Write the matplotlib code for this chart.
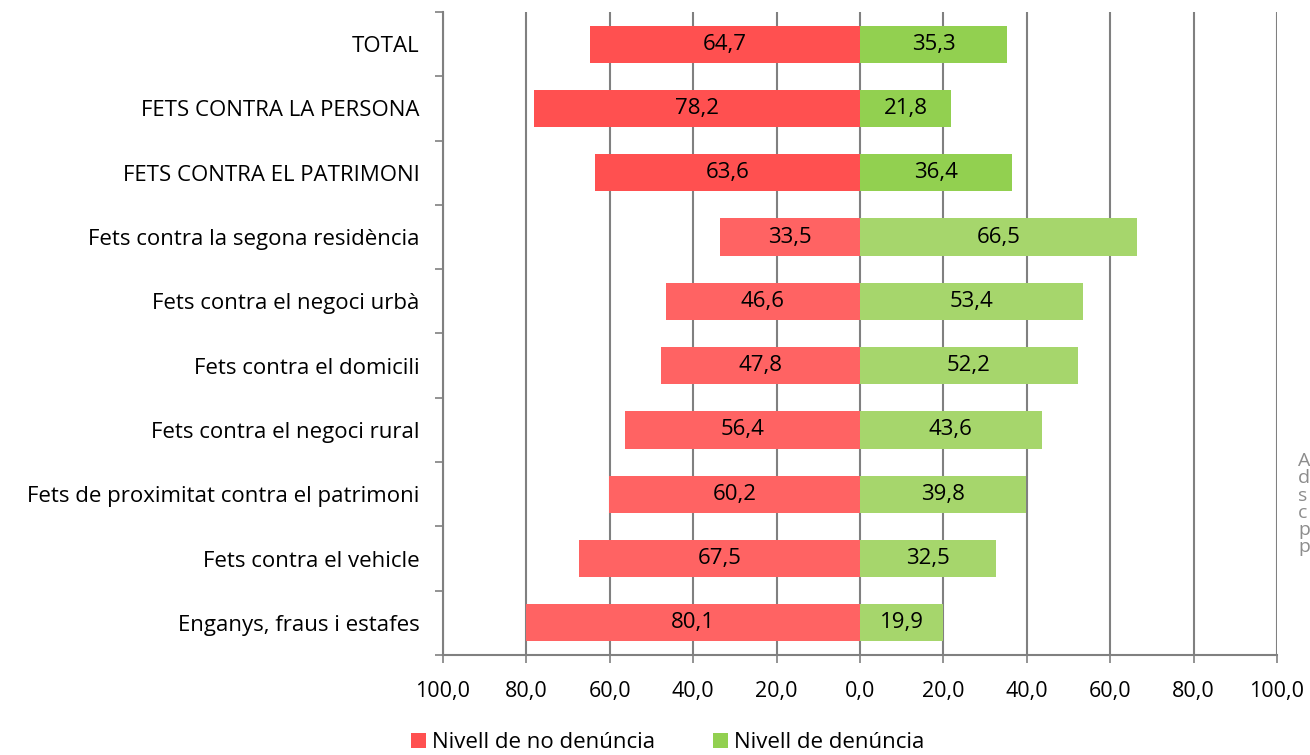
import matplotlib.pyplot as plt
import numpy as np
from matplotlib.ticker import FixedLocator

plt.rcParams['font.family'] = ['Open Sans', 'DejaVu Sans']

categories = [
    "TOTAL",
    "FETS CONTRA LA PERSONA",
    "FETS CONTRA EL PATRIMONI",
    "Fets contra la segona residència",
    "Fets contra el negoci urbà",
    "Fets contra el domicili",
    "Fets contra el negoci rural",
    "Fets de proximitat contra el patrimoni",
    "Fets contra el vehicle",
    "Enganys, fraus i estafes",
]
no_denuncia = [64.7, 78.2, 63.6, 33.5, 46.6, 47.8, 56.4, 60.2, 67.5, 80.1]
denuncia = [35.3, 21.8, 36.4, 66.5, 53.4, 52.2, 43.6, 39.8, 32.5, 19.9]

# els tres primers tenen un to mes fort
red_cols = ["#FF5050"] * 3 + ["#FF6363"] * 7
green_cols = ["#92D050"] * 3 + ["#A6D66C"] * 7

FS = 16

fig = plt.figure(figsize=(13.1, 7.55), dpi=100)
ax = fig.add_axes([443 / 1310, 100 / 755, 834 / 1310, 643 / 755])

y = np.arange(len(categories))
h = 0.58
ax.barh(y, [-v for v in no_denuncia], height=h, color=red_cols, zorder=3,
        label="Nivell de no denúncia")
ax.barh(y, denuncia, height=h, color=green_cols, zorder=3,
        label="Nivell de denúncia")

fmt = lambda v: f"{v:.1f}".replace(".", ",")
for i in range(len(categories)):
    ax.text(-no_denuncia[i] / 2, y[i], fmt(no_denuncia[i]), ha="center", va="center",
            fontsize=FS, zorder=4)
    ax.text(denuncia[i] / 2, y[i], fmt(denuncia[i]), ha="center", va="center",
            fontsize=FS, zorder=4)

ax.set_xlim(-100, 100)
ax.set_ylim(len(categories) - 0.5, -0.5)
xt = np.arange(-100, 101, 20)
ax.set_xticks(xt)
ax.set_xticklabels([fmt(abs(v)) for v in xt], fontsize=15.5)
ax.set_yticks(y)
ax.set_yticklabels(categories, fontsize=FS)
ax.yaxis.set_minor_locator(FixedLocator(np.arange(-0.5, len(categories), 1)))
ax.tick_params(axis="y", which="major", length=0, pad=17)
ax.tick_params(axis="y", which="minor", length=6, color="#808080", width=1.2)
ax.tick_params(axis="x", length=6, color="#808080", width=1.2, pad=13)

ax.grid(axis="x", color="#808080", linewidth=1.5, zorder=1)
for s in ["top", "right"]:
    ax.spines[s].set_visible(False)
for s in ["left", "bottom"]:
    ax.spines[s].set_color("#808080")
    ax.spines[s].set_linewidth(1.5)

fig.legend(loc="center", bbox_to_anchor=(668 / 1310, 1 - 743 / 755), ncol=2,
           frameon=False, fontsize=FS, handlelength=0.65, handleheight=0.65,
           columnspacing=2.6, handletextpad=0.3)

# text tallat al marge dret
fig.text(1298 / 1310, 1 - 452 / 755, "A\nd\ns\nc\np\np", color="#8C8C8C",
         fontsize=14, va="top", ha="left", linespacing=0.95)

fig.savefig("out.png", dpi=100)
